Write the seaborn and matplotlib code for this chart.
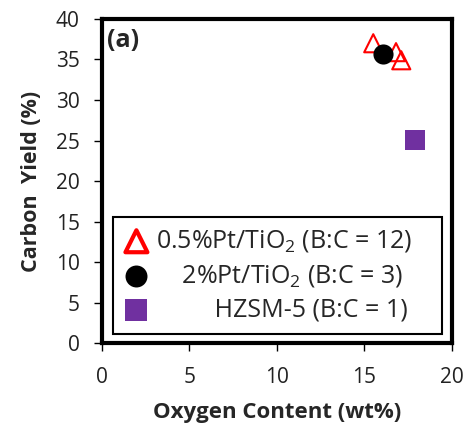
import matplotlib
matplotlib.use("Agg")
import matplotlib.pyplot as plt
import seaborn as sns
import pandas as pd

# Data
cat_pt05 = "0.5%Pt/TiO$_2$ (B:C = 12)"
cat_pt2 = "    2%Pt/TiO$_2$ (B:C = 3)"
cat_hz = "         HZSM-5 (B:C = 1)"
pt05_oxygen = [15.5, 16.8, 17.1]
pt05_yield = [37.0, 35.9, 34.9]
pt2_oxygen = [16.05]
pt2_yield = [35.7]
hz_oxygen = [17.9]
hz_yield = [25.1]
x_ticks = [0, 5, 10, 15, 20]
y_ticks = [0, 5, 10, 15, 20, 25, 30, 35, 40]

df = pd.DataFrame({
    "Oxygen": pt05_oxygen + pt2_oxygen + hz_oxygen,
    "Yield": pt05_yield + pt2_yield + hz_yield,
    "Catalyst": [cat_pt05] * len(pt05_oxygen) + [cat_pt2] * len(pt2_oxygen) + [cat_hz] * len(hz_oxygen),
})

sns.set_theme(style="white")
FONT = "Open Sans"
plt.rcParams["font.family"] = [FONT, "DejaVu Sans"]
plt.rcParams["mathtext.fontset"] = "custom"
plt.rcParams["mathtext.rm"] = FONT
plt.rcParams["mathtext.it"] = FONT + ":italic"
plt.rcParams["mathtext.bf"] = FONT + ":bold"

fig = plt.figure(figsize=(4.67, 4.30), dpi=100)
ax = fig.add_axes([0.218, 0.202, 0.750, 0.754])

order = [cat_pt05, cat_pt2, cat_hz]
colors = {cat_pt05: "#ff0000", cat_pt2: "#000000", cat_hz: "#7030a0"}
markers = {cat_pt05: "^", cat_pt2: "o", cat_hz: "s"}
sizes = {cat_pt05: 170, cat_pt2: 210, cat_hz: 200}

for c in order:
    sub = df[df["Catalyst"] == c]
    if c == cat_pt05:
        sns.scatterplot(data=sub, x="Oxygen", y="Yield", ax=ax, marker="^",
                        s=sizes[c], facecolor="none", edgecolor=colors[c],
                        linewidth=1.5, label=c, zorder=3)
    else:
        sns.scatterplot(data=sub, x="Oxygen", y="Yield", ax=ax, marker=markers[c],
                        s=sizes[c], color=colors[c], edgecolor=colors[c],
                        linewidth=0, label=c, zorder=4)

ax.set_xlim(0, 20)
ax.set_ylim(0, 40)
ax.set_xticks(x_ticks)
ax.set_yticks(y_ticks)
ax.tick_params(axis="both", which="major", labelsize=15, direction="out",
               length=6, width=1, color="black", bottom=True, left=True,
               labelcolor="#222222")
ax.tick_params(axis="x", pad=11)
ax.tick_params(axis="y", pad=10)
ax.set_xlabel("Oxygen Content (wt%)", fontsize=16, fontweight="bold", labelpad=10)
ax.set_ylabel("Carbon  Yield (%)", fontsize=15.5, fontweight="bold", labelpad=10)
for sp in ax.spines.values():
    sp.set_linewidth(3)
    sp.set_color("black")
ax.grid(False)

ax.text(0.016, 0.972, "(a)", transform=ax.transAxes, fontsize=18,
        fontweight="bold", va="top", ha="left")

leg = ax.legend(loc="lower left", bbox_to_anchor=(0.031, 0.028, 0.94, 0.38),
                mode="expand", fontsize=18, frameon=True, fancybox=False,
                edgecolor="black", framealpha=1, handletextpad=0.3,
                borderpad=0.45, labelspacing=0.35, handlelength=1.0,
                borderaxespad=0)
leg.get_frame().set_linewidth(1.5)
for h in leg.legend_handles:
    try:
        h.set_sizes([250])
    except Exception:
        pass
leg.legend_handles[0].set_linewidth(3)

fig.savefig("out.png", dpi=100)
